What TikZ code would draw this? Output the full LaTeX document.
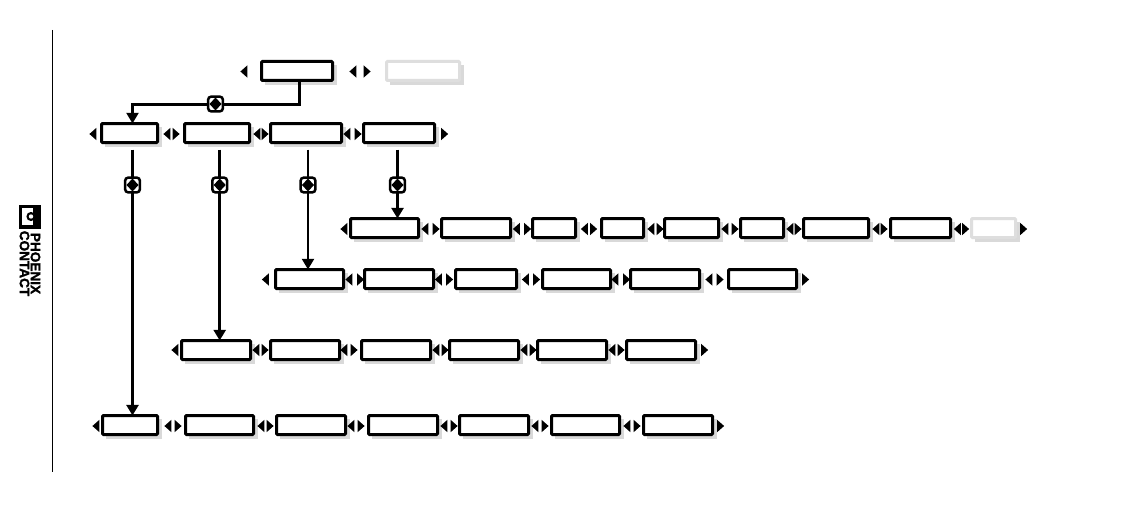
\documentclass[tikz,border=0pt]{standalone}
\usepackage{fontspec}
\setmainfont{Liberation Sans}
\newfontfamily\logofont{Liberation Sans}[UprightFont=* Bold,FakeBold=1.6]
\usetikzlibrary{arrows.meta,calc}
\definecolor{shade}{HTML}{D9D9D9}
\definecolor{ghost}{HTML}{DEDEDE}
\tikzset{
  x=0.75pt,y=-0.75pt,
  every node/.style={inner sep=0,outer sep=0},
  menubox/.style={draw=black,fill=white,line width=2.25pt,rounded corners=0.8pt,minimum height=15pt},
  ghostbox/.style={menubox,draw=ghost},
  boxshade/.style={fill=shade},
  tri/.style={fill=black,draw=none},
  link/.style={draw=black,line width=2.3pt},
  thinlink/.style={draw=black,line width=1.75pt},
  tip/.style={-{Triangle[length=8pt,width=9pt]}},
  keybadge/.style={draw=black,fill=white,line width=1.9pt,rounded corners=2.2pt,minimum width=11pt,minimum height=11pt},
  keydiamond/.style={fill=black,draw=none},
  logotext/.style={font=\logofont\fontsize{10.2pt}{10.2pt}\selectfont,rotate=-90,anchor=center},
}
% name, x1, y1, x2, y2 (outer edges of the outline)
\newcommand{\menu}[6][menubox]{%
  \fill[boxshade] (#3+4,#4+4) rectangle (#5+4,#6+4);
  \node[#1,minimum width={(#5-#3-1)*0.75pt},minimum height={(#6-#4-1)*0.75pt},anchor=center] (#2) at ({(#3+#5)/2},{(#4+#6)/2}) {};
}
\newcommand{\ltri}[2]{\fill[tri] (#1-3.6,#2) -- (#1+3.4,#2-6.2) -- (#1+3.4,#2+6.2) -- cycle;}
\newcommand{\rtri}[2]{\fill[tri] (#1+3.6,#2) -- (#1-3.4,#2-6.2) -- (#1-3.4,#2+6.2) -- cycle;}
\newcommand{\badge}[3]{%
  \node[keybadge] (#1) at (#2,#3) {};
  \fill[keydiamond] (#2-6,#3) -- (#2,#3-6.5) -- (#2+6,#3) -- (#2,#3+6.5) -- cycle;
}
\begin{document}
\begin{tikzpicture}
\useasboundingbox (0,0) rectangle (1134,528);
\fill[white] (0,0) rectangle (1134,528);
% side rule
\coordinate (ruleA) at (52.5,30);
\coordinate (ruleB) at (52.5,472);
\draw[black,line width=0.8pt] (ruleA) -- (ruleB);
% logo
\fill[black] (19,205) rectangle (41,229);
\fill[white] (22,208) rectangle (33,225);
\fill[black] (31,216.5) circle (4.6);
\fill[white] (31,216.5) circle (2.2);
\node[logotext] (logoA) at (35.5,263.5) {PHOENIX};
\node[logotext] (logoB) at (24.5,263.5) {CONTACT};
% top
\menu{top}{261}{61}{333}{81}
\menu[ghostbox]{topghost}{386}{61}{460}{81}
\ltri{244}{71.5}\ltri{353}{71.5}\rtri{367}{71.5}
% row 2
\menu{a}{101}{123}{158}{143}
\menu{b}{184}{123}{250}{143}
\menu{c}{270}{123}{342}{143}
\menu{d}{363}{123}{435}{143}
\ltri{93}{134}\ltri{167}{134}\rtri{176}{134}\ltri{257}{134}\rtri{265}{134}\ltri{347}{134}\rtri{358}{134}\rtri{444.5}{134}
% row 3
\menu{r1}{350}{218}{419}{238}
\menu{r2}{441}{218}{511}{238}
\menu{r3}{532}{218}{576}{238}
\menu{r4}{601}{218}{644}{238}
\menu{r5}{664}{218}{719}{238}
\menu{r6}{740}{218}{784}{238}
\menu{r7}{803}{218}{869}{238}
\menu{r8}{890}{218}{951}{238}
\menu[ghostbox]{r9}{971}{218}{1016}{238}
\foreach \l/\r in {425/436,516.5/527.5,584.5/593.5,651/660,725/735,790/798,876/884,957.5/965.5}{\ltri{\l}{229}\rtri{\r}{229}}
\ltri{344}{229}\rtri{1023.5}{229}
% row 4
\menu{s1}{275}{269}{344}{289}
\menu{s2}{364}{269}{434}{289}
\menu{s3}{455}{269}{517}{289}
\menu{s4}{542}{269}{611}{289}
\menu{s5}{630}{269}{700}{289}
\menu{s6}{728}{269}{797}{289}
\foreach \l/\r in {349/360.5,438.5/449.5,525.5/536.5,615/626.5,709/720}{\ltri{\l}{279.5}\rtri{\r}{279.5}}
\ltri{265.5}{279.5}\rtri{805.5}{279.5}
% row 5
\menu{t1}{181}{340}{251}{360}
\menu{t2}{270}{340}{340}{360}
\menu{t3}{361}{340}{431}{360}
\menu{t4}{449}{340}{519}{360}
\menu{t5}{537}{340}{607}{360}
\menu{t6}{626}{340}{696}{360}
\foreach \l/\r in {256/265,344/354,436/445,524/533,612/621}{\ltri{\l}{350}\rtri{\r}{350}}
\ltri{175}{350}\rtri{704.5}{350}
% row 6
\menu{u1}{102}{415}{158}{435}
\menu{u2}{185}{415}{254}{435}
\menu{u3}{276}{415}{346}{435}
\menu{u4}{368}{415}{438}{435}
\menu{u5}{459}{415}{529}{435}
\menu{u6}{551}{415}{620}{435}
\menu{u7}{643}{415}{713}{435}
\foreach \l/\r in {168/178,261/270,351/361,444/454,535/545,627/637}{\ltri{\l}{426}\rtri{\r}{426}}
\ltri{96}{426}\rtri{720.5}{426}
% connectors
\coordinate (jTop) at (299.5,104.5);
\coordinate (s132) at (132.5,149.5);
\coordinate (s219) at (219.7,149.5);
\coordinate (s308) at (308,149.5);
\coordinate (s397) at (397.5,149.5);
\draw[thinlink,tip] (top.south -| jTop) -- (jTop) -- (jTop -| s132) -- (s132 |- a.north);
\draw[link,tip] (s132) -- (s132 |- u1.north);
\draw[link,tip] (s219) -- (s219 |- t1.north);
\draw[thinlink,tip] (s308) -- (s308 |- s1.north);
\draw[link,tip] (s397) -- (s397 |- r1.north);
\badge{k0}{215.5}{104}
\badge{k1}{132.5}{185}
\badge{k2}{219.7}{185}
\badge{k3}{308}{185}
\badge{k4}{397.5}{185}
\end{tikzpicture}
\end{document}
